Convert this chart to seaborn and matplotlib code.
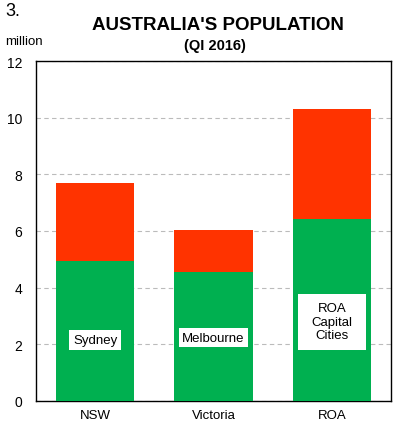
import matplotlib
matplotlib.use("Agg")
import matplotlib.pyplot as plt
from matplotlib.patches import Rectangle
import seaborn as sns
import pandas as pd

states = ["NSW", "Victoria", "ROA"]
capital = [4.94, 4.54, 6.41]
total = [7.69, 6.04, 10.31]
capital_labels = ["Sydney", "Melbourne", "ROA\nCapital\nCities"]
label_y = [2.15, 2.24, 2.8]
yticks = [0, 2, 4, 6, 8, 10, 12]

sns.set_theme(style="white")
plt.rcParams["font.family"] = ["Liberation Sans", "DejaVu Sans"]
plt.rcParams["text.color"] = "black"
plt.rcParams["xtick.color"] = "black"
plt.rcParams["ytick.color"] = "black"
plt.rcParams["xtick.labelcolor"] = "black"
plt.rcParams["ytick.labelcolor"] = "black"

df = pd.DataFrame({"state": states, "capital": capital, "total": total})

fig = plt.figure(figsize=(3.98, 4.31), dpi=100)
ax = fig.add_axes([36 / 398, 1 - 402 / 431, 355 / 398, 340 / 431])

sns.barplot(data=df, x="state", y="total", color="#FF3300", saturation=1,
            width=0.66, ax=ax, linewidth=0, zorder=3)
sns.barplot(data=df, x="state", y="capital", color="#00B050", saturation=1,
            width=0.66, ax=ax, linewidth=0, zorder=3)

# label box sizes (data units: width in categories, height in millions)
box_w = [0.44, 0.575, 0.575]
box_h = [0.70, 0.70, 1.98]
for i, (lab, y) in enumerate(zip(capital_labels, label_y)):
    ax.add_patch(Rectangle((i - box_w[i] / 2, y - box_h[i] / 2), box_w[i], box_h[i],
                           facecolor="white", edgecolor="none", zorder=4))
    ax.text(i, y, lab, ha="center", va="center", fontsize=9.5, color="black",
            zorder=5, linespacing=1.15)

ax.set_xlim(-0.5, 2.5)
ax.set_ylim(0, 12)
ax.set_yticks(yticks)
ax.set_yticklabels([str(v) for v in yticks], fontsize=10)
ax.set_xticks(range(len(states)))
ax.set_xticklabels(states, fontsize=9.5)
ax.set_xlabel("")
ax.set_ylabel("")
ax.set_xticks([0.5, 1.5], minor=True)
ax.tick_params(axis="x", which="major", length=0, pad=6)
ax.tick_params(axis="x", which="minor", direction="in", length=4, color="black", width=0.8)
ax.tick_params(axis="y", which="major", direction="out", length=6, color="#aaaaaa", width=0.8, pad=4)
ax.yaxis.grid(True, linestyle=(0, (4, 3)), color="#bbbbbb", linewidth=0.8, zorder=0)
ax.set_axisbelow(True)
for s in ax.spines.values():
    s.set_color("black")
    s.set_linewidth(1.0)

fig.text(5 / 398, 1 - 11 / 431, "3.", fontsize=13, ha="left", va="center")
fig.text(5 / 398, 1 - 42 / 431, "million", fontsize=9.5, ha="left", va="center")
fig.text(218 / 398, 1 - 26 / 431, "AUSTRALIA'S POPULATION", fontsize=13.5,
         fontweight="bold", ha="center", va="center")
fig.text(215 / 398, 1 - 46 / 431, "(QI 2016)", fontsize=10.5,
         fontweight="bold", ha="center", va="center")

fig.savefig("out.png", dpi=100)
